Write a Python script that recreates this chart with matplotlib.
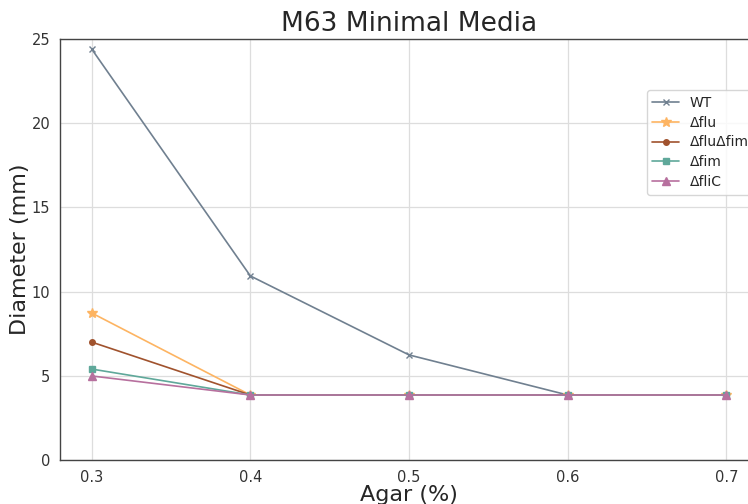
import matplotlib
matplotlib.use("Agg")
import matplotlib.pyplot as plt
import seaborn as sns

# Agar concentration (%) and colony diameter (mm)
agar = [0.3, 0.4, 0.5, 0.6, 0.7]
wt = [24.4, 10.93, 6.24, 3.86, 3.86]
d_flu = [8.73, 3.86, 3.86, 3.86, 3.86]
d_flu_fim = [7.0, 3.86, 3.86, 3.86, 3.86]
d_fim = [5.4, 3.86, 3.86, 3.86, 3.86]
d_flic = [4.99, 3.86, 3.86, 3.86, 3.86]

labels = ["WT", "\u0394flu", "\u0394flu\u0394fim", "\u0394fim", "\u0394fliC"]
series = [wt, d_flu, d_flu_fim, d_fim, d_flic]
colors = ["#708090", "#FDB462", "#A0522D", "#5FA89A", "#B7709E"]
markers = ["x", "*", "o", "s", "^"]
msizes = [4, 7, 4, 4, 6]

sns.set_style("whitegrid")
plt.rcParams['font.family'] = ['DejaVu Sans']

fig = plt.figure(figsize=(7.48, 5.04), dpi=100)
ax = fig.add_axes([60 / 748, 44 / 504, 698 / 748, 421 / 504])

for y, lab, c, m, ms in zip(series, labels, colors, markers, msizes):
    ax.plot(agar, y, marker=m, color=c, label=lab, markersize=ms, linewidth=1.2)

ax.set_xlim(0.28, 0.72)
ax.set_ylim(0, 25)
ax.set_xticks(agar)
ax.set_yticks([0, 5, 10, 15, 20, 25])
ax.grid(True, color="#dddddd", linewidth=0.9)
ax.tick_params(labelsize=10.5, colors="#333333")
for s in ["left", "top", "bottom"]:
    ax.spines[s].set_color("#444444")
    ax.spines[s].set_linewidth(1.0)

ax.set_title("M63 Minimal Media", fontsize=19, color="#262626")
ax.set_xlabel("Agar (%)", fontsize=16, color="#262626", labelpad=0)
ax.set_ylabel("Diameter (mm)", fontsize=16, color="#262626", labelpad=1)

ax.legend(loc="upper right", bbox_to_anchor=(1.005, 0.895), fontsize=10, frameon=True,
          labelspacing=0.42, handlelength=1.9)

fig.savefig("out.png", dpi=100)
